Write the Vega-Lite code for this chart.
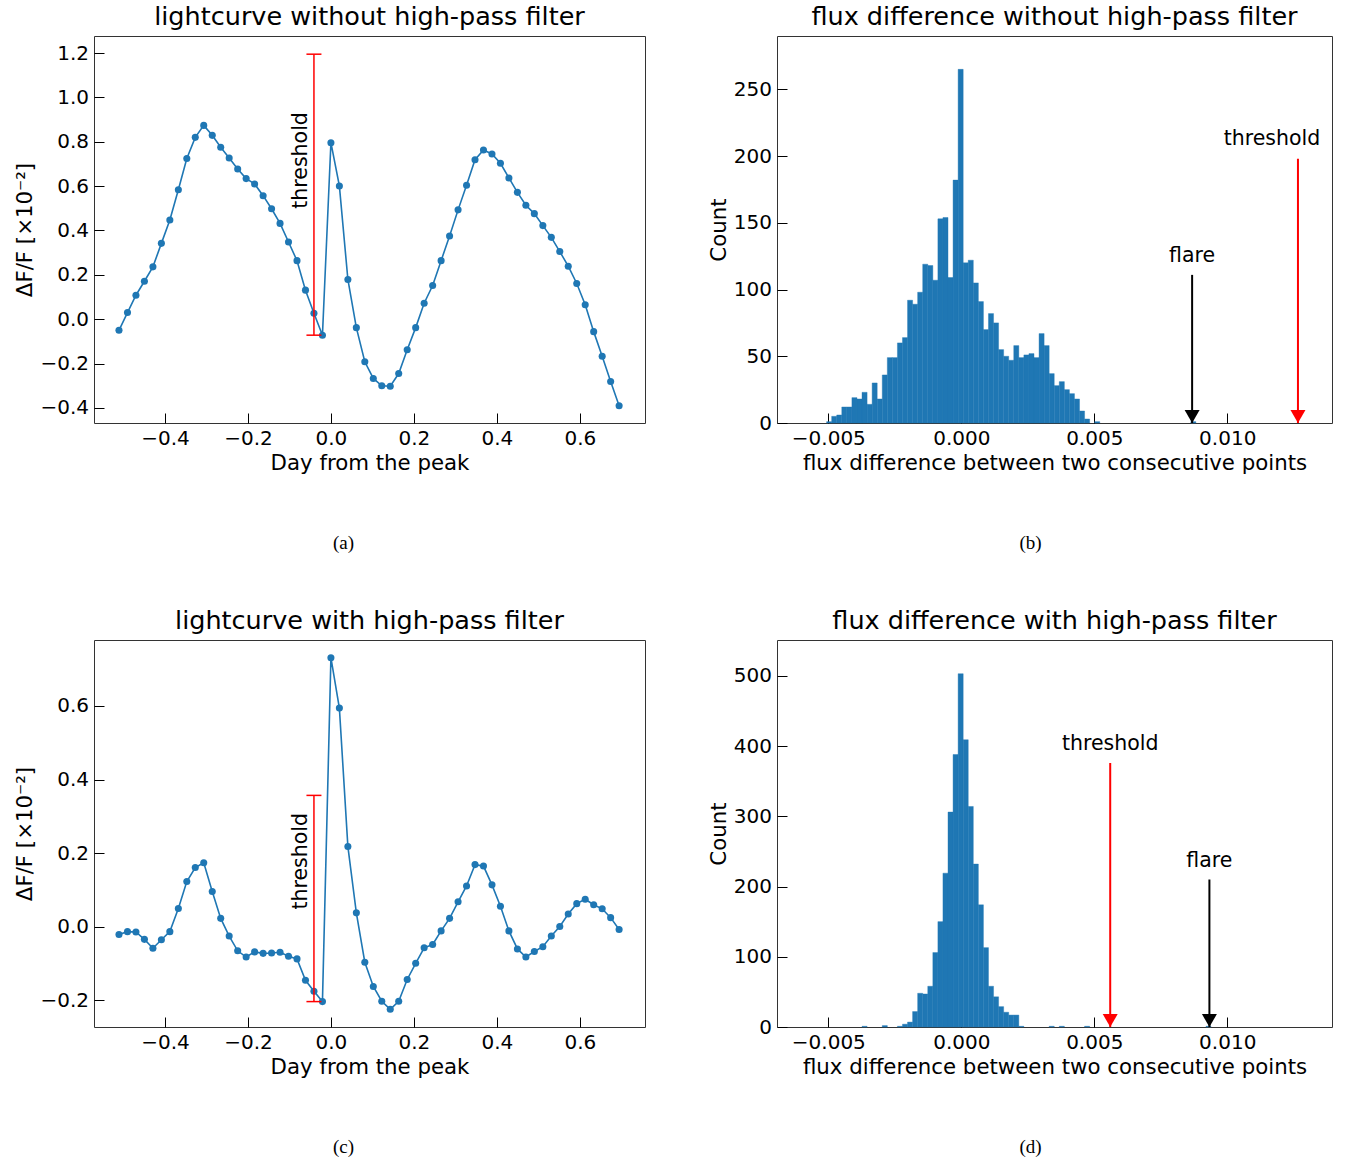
{
  "$schema": "https://vega.github.io/schema/vega-lite/v6.json",
  "padding": {"left": 14, "top": 4, "right": 5, "bottom": 5},
  "config": {
    "font": "DejaVu Sans",
    "view": {"stroke": "#333333", "strokeWidth": 1},
    "axis": {"grid": false, "domain": false, "tickColor": "#000000", "tickSize": -10, "tickWidth": 1, "labelFontSize": 20, "labelColor": "#000000", "titleFontSize": 21.3, "titleFontWeight": "normal", "titleColor": "#000000", "labelPadding": 15.5, "labelFlush": false, "labelOverlap": false},
    "title": {"fontSize": 25.5, "fontWeight": "normal", "color": "#000000", "baseline": "alphabetic", "offset": 6}
  },
  "datasets": {
    "lc_raw": [
      {"day": -0.5108, "flux": -0.050}, {"day": -0.4903, "flux": 0.030}, {"day": -0.4699, "flux": 0.108}, {"day": -0.4495, "flux": 0.171},
      {"day": -0.4290, "flux": 0.236}, {"day": -0.4086, "flux": 0.342}, {"day": -0.3882, "flux": 0.447}, {"day": -0.3677, "flux": 0.584},
      {"day": -0.3473, "flux": 0.725}, {"day": -0.3269, "flux": 0.820}, {"day": -0.3065, "flux": 0.874}, {"day": -0.2860, "flux": 0.829},
      {"day": -0.2656, "flux": 0.775}, {"day": -0.2452, "flux": 0.727}, {"day": -0.2247, "flux": 0.677}, {"day": -0.2043, "flux": 0.634},
      {"day": -0.1839, "flux": 0.610}, {"day": -0.1634, "flux": 0.557}, {"day": -0.1430, "flux": 0.498}, {"day": -0.1226, "flux": 0.432},
      {"day": -0.1022, "flux": 0.348}, {"day": -0.0817, "flux": 0.264}, {"day": -0.0613, "flux": 0.131}, {"day": -0.0409, "flux": 0.027},
      {"day": -0.0204, "flux": -0.072}, {"day": 0.0, "flux": 0.796}, {"day": 0.0204, "flux": 0.601}, {"day": 0.0409, "flux": 0.179},
      {"day": 0.0613, "flux": -0.038}, {"day": 0.0817, "flux": -0.192}, {"day": 0.1022, "flux": -0.267}, {"day": 0.1226, "flux": -0.300},
      {"day": 0.1430, "flux": -0.302}, {"day": 0.1634, "flux": -0.245}, {"day": 0.1839, "flux": -0.138}, {"day": 0.2043, "flux": -0.038},
      {"day": 0.2247, "flux": 0.072}, {"day": 0.2452, "flux": 0.152}, {"day": 0.2656, "flux": 0.264}, {"day": 0.2860, "flux": 0.375},
      {"day": 0.3065, "flux": 0.493}, {"day": 0.3269, "flux": 0.604}, {"day": 0.3473, "flux": 0.719}, {"day": 0.3677, "flux": 0.763},
      {"day": 0.3882, "flux": 0.745}, {"day": 0.4086, "flux": 0.703}, {"day": 0.4290, "flux": 0.637}, {"day": 0.4495, "flux": 0.572},
      {"day": 0.4699, "flux": 0.514}, {"day": 0.4903, "flux": 0.476}, {"day": 0.5108, "flux": 0.422}, {"day": 0.5312, "flux": 0.369},
      {"day": 0.5516, "flux": 0.305}, {"day": 0.5720, "flux": 0.239}, {"day": 0.5925, "flux": 0.161}, {"day": 0.6129, "flux": 0.065},
      {"day": 0.6333, "flux": -0.056}, {"day": 0.6538, "flux": -0.167}, {"day": 0.6742, "flux": -0.281}, {"day": 0.6946, "flux": -0.390}
    ],
    "lc_hp": [
      {"day": -0.5108, "flux": -0.021}, {"day": -0.4903, "flux": -0.013}, {"day": -0.4699, "flux": -0.014}, {"day": -0.4495, "flux": -0.034},
      {"day": -0.4290, "flux": -0.058}, {"day": -0.4086, "flux": -0.035}, {"day": -0.3882, "flux": -0.013}, {"day": -0.3677, "flux": 0.050},
      {"day": -0.3473, "flux": 0.123}, {"day": -0.3269, "flux": 0.161}, {"day": -0.3065, "flux": 0.174}, {"day": -0.2860, "flux": 0.096},
      {"day": -0.2656, "flux": 0.023}, {"day": -0.2452, "flux": -0.025}, {"day": -0.2247, "flux": -0.065}, {"day": -0.2043, "flux": -0.082},
      {"day": -0.1839, "flux": -0.068}, {"day": -0.1634, "flux": -0.072}, {"day": -0.1430, "flux": -0.071}, {"day": -0.1226, "flux": -0.069},
      {"day": -0.1022, "flux": -0.080}, {"day": -0.0817, "flux": -0.087}, {"day": -0.0613, "flux": -0.145}, {"day": -0.0409, "flux": -0.175},
      {"day": -0.0204, "flux": -0.203}, {"day": 0.0, "flux": 0.731}, {"day": 0.0204, "flux": 0.594}, {"day": 0.0409, "flux": 0.218},
      {"day": 0.0613, "flux": 0.038}, {"day": 0.0817, "flux": -0.096}, {"day": 0.1022, "flux": -0.162}, {"day": 0.1226, "flux": -0.202},
      {"day": 0.1430, "flux": -0.224}, {"day": 0.1634, "flux": -0.202}, {"day": 0.1839, "flux": -0.143}, {"day": 0.2043, "flux": -0.099},
      {"day": 0.2247, "flux": -0.057}, {"day": 0.2452, "flux": -0.048}, {"day": 0.2656, "flux": -0.011}, {"day": 0.2860, "flux": 0.023},
      {"day": 0.3065, "flux": 0.068}, {"day": 0.3269, "flux": 0.111}, {"day": 0.3473, "flux": 0.169}, {"day": 0.3677, "flux": 0.165},
      {"day": 0.3882, "flux": 0.114}, {"day": 0.4086, "flux": 0.056}, {"day": 0.4290, "flux": -0.011}, {"day": 0.4495, "flux": -0.060},
      {"day": 0.4699, "flux": -0.082}, {"day": 0.4903, "flux": -0.067}, {"day": 0.5108, "flux": -0.054}, {"day": 0.5312, "flux": -0.025},
      {"day": 0.5516, "flux": 0.001}, {"day": 0.5720, "flux": 0.035}, {"day": 0.5925, "flux": 0.063}, {"day": 0.6129, "flux": 0.075},
      {"day": 0.6333, "flux": 0.060}, {"day": 0.6538, "flux": 0.049}, {"day": 0.6742, "flux": 0.025}, {"day": 0.6946, "flux": -0.007}
    ],
    "thr_a": [{"day": -0.0409, "lo": -0.072, "hi": 1.195, "label_at": 0.716, "label": "threshold"}],
    "thr_c": [{"day": -0.0409, "lo": -0.203, "hi": 0.357, "label_at": 0.178, "label": "threshold"}],
    "hist_raw": [
      {"x0": -0.0050642, "x1": -0.004874, "n": 1}, {"x0": -0.004874, "x1": -0.0046838, "n": 5}, {"x0": -0.0046838, "x1": -0.0044936, "n": 6},
      {"x0": -0.0044936, "x1": -0.0043034, "n": 12}, {"x0": -0.0043034, "x1": -0.0041132, "n": 12}, {"x0": -0.0041132, "x1": -0.003923, "n": 19},
      {"x0": -0.003923, "x1": -0.0037328, "n": 18}, {"x0": -0.0037328, "x1": -0.0035426, "n": 23}, {"x0": -0.0035426, "x1": -0.0033524, "n": 14},
      {"x0": -0.0033524, "x1": -0.0031622, "n": 30}, {"x0": -0.0031622, "x1": -0.002972, "n": 18}, {"x0": -0.002972, "x1": -0.0027818, "n": 36},
      {"x0": -0.0027818, "x1": -0.0025916, "n": 49}, {"x0": -0.0025916, "x1": -0.0024014, "n": 49}, {"x0": -0.0024014, "x1": -0.0022112, "n": 60},
      {"x0": -0.0022112, "x1": -0.002021, "n": 64}, {"x0": -0.002021, "x1": -0.0018308, "n": 92}, {"x0": -0.0018308, "x1": -0.0016406, "n": 89},
      {"x0": -0.0016406, "x1": -0.0014504, "n": 98}, {"x0": -0.0014504, "x1": -0.0012602, "n": 119}, {"x0": -0.0012602, "x1": -0.00107, "n": 118},
      {"x0": -0.00107, "x1": -0.0008798, "n": 107}, {"x0": -0.0008798, "x1": -0.0006896, "n": 153}, {"x0": -0.0006896, "x1": -0.0004994, "n": 154},
      {"x0": -0.0004994, "x1": -0.0003092, "n": 109}, {"x0": -0.0003092, "x1": -0.000119, "n": 182}, {"x0": -0.000119, "x1": 0.0000712, "n": 265},
      {"x0": 0.0000712, "x1": 0.0002614, "n": 120}, {"x0": 0.0002614, "x1": 0.0004516, "n": 122}, {"x0": 0.0004516, "x1": 0.0006418, "n": 105},
      {"x0": 0.0006418, "x1": 0.000832, "n": 91}, {"x0": 0.000832, "x1": 0.0010222, "n": 70}, {"x0": 0.0010222, "x1": 0.0012124, "n": 82},
      {"x0": 0.0012124, "x1": 0.0014026, "n": 75}, {"x0": 0.0014026, "x1": 0.0015928, "n": 55}, {"x0": 0.0015928, "x1": 0.001783, "n": 50},
      {"x0": 0.001783, "x1": 0.0019732, "n": 47}, {"x0": 0.0019732, "x1": 0.0021634, "n": 58}, {"x0": 0.0021634, "x1": 0.0023536, "n": 49},
      {"x0": 0.0023536, "x1": 0.0025438, "n": 51}, {"x0": 0.0025438, "x1": 0.002734, "n": 52}, {"x0": 0.002734, "x1": 0.0029242, "n": 49},
      {"x0": 0.0029242, "x1": 0.0031144, "n": 67}, {"x0": 0.0031144, "x1": 0.0033046, "n": 58}, {"x0": 0.0033046, "x1": 0.0034948, "n": 37},
      {"x0": 0.0034948, "x1": 0.003685, "n": 28}, {"x0": 0.003685, "x1": 0.0038752, "n": 31}, {"x0": 0.0038752, "x1": 0.0040654, "n": 25},
      {"x0": 0.0040654, "x1": 0.0042556, "n": 22}, {"x0": 0.0042556, "x1": 0.0044458, "n": 18}, {"x0": 0.0044458, "x1": 0.004636, "n": 9},
      {"x0": 0.004636, "x1": 0.0048262, "n": 3}, {"x0": 0.0050164, "x1": 0.0052066, "n": 1}, {"x0": 0.0086302, "x1": 0.0088204, "n": 1}
    ],
    "hist_hp": [
      {"x0": -0.0037328, "x1": -0.0035426, "n": 1}, {"x0": -0.002972, "x1": -0.0027818, "n": 2}, {"x0": -0.0024014, "x1": -0.0022112, "n": 1},
      {"x0": -0.0022112, "x1": -0.002021, "n": 4}, {"x0": -0.002021, "x1": -0.0018308, "n": 7}, {"x0": -0.0018308, "x1": -0.0016406, "n": 22},
      {"x0": -0.0016406, "x1": -0.0014504, "n": 48}, {"x0": -0.0014504, "x1": -0.0012602, "n": 47}, {"x0": -0.0012602, "x1": -0.00107, "n": 58},
      {"x0": -0.00107, "x1": -0.0008798, "n": 106}, {"x0": -0.0008798, "x1": -0.0006896, "n": 150}, {"x0": -0.0006896, "x1": -0.0004994, "n": 219},
      {"x0": -0.0004994, "x1": -0.0003092, "n": 306}, {"x0": -0.0003092, "x1": -0.000119, "n": 388}, {"x0": -0.000119, "x1": 0.0000712, "n": 503},
      {"x0": 0.0000712, "x1": 0.0002614, "n": 409}, {"x0": 0.0002614, "x1": 0.0004516, "n": 314}, {"x0": 0.0004516, "x1": 0.0006418, "n": 232},
      {"x0": 0.0006418, "x1": 0.000832, "n": 174}, {"x0": 0.000832, "x1": 0.0010222, "n": 113}, {"x0": 0.0010222, "x1": 0.0012124, "n": 58},
      {"x0": 0.0012124, "x1": 0.0014026, "n": 43}, {"x0": 0.0014026, "x1": 0.0015928, "n": 29}, {"x0": 0.0015928, "x1": 0.001783, "n": 21},
      {"x0": 0.001783, "x1": 0.0019732, "n": 17}, {"x0": 0.0019732, "x1": 0.0021634, "n": 17}, {"x0": 0.0021634, "x1": 0.0023536, "n": 1},
      {"x0": 0.0033046, "x1": 0.0034948, "n": 1}, {"x0": 0.003685, "x1": 0.0038752, "n": 1}, {"x0": 0.004636, "x1": 0.0048262, "n": 1},
      {"x0": 0.0092008, "x1": 0.009391, "n": 1}
    ],
    "arr_b": [{"name": "flare", "x": 0.00868, "top": 111}, {"name": "threshold", "x": 0.01266, "top": 198}],
    "arr_d": [{"name": "threshold", "x": 0.0056, "top": 376}, {"name": "flare", "x": 0.00933, "top": 210}]
  },
  "columns": 2,
  "spacing": {"row": 98, "column": 132},
  "bounds": "flush",
  "concat": [
    {
      "width": 551, "height": 387,
      "title": "lightcurve without high-pass filter",
      "layer": [
        {"data": {"name": "lc_raw"}, "mark": {"type": "line", "color": "#1f77b4", "strokeWidth": 1.6, "point": {"filled": true, "size": 50, "color": "#1f77b4", "opacity": 1}},
         "encoding": {
           "x": {"field": "day", "type": "quantitative", "scale": {"domain": [-0.571, 0.757], "nice": false, "zero": false}, "axis": {"values": [-0.4, -0.2, 0, 0.2, 0.4, 0.6], "format": ".1f", "title": "Day from the peak"}},
           "y": {"field": "flux", "type": "quantitative", "scale": {"domain": [-0.468, 1.277], "nice": false, "zero": false}, "axis": {"values": [-0.4, -0.2, 0, 0.2, 0.4, 0.6, 0.8, 1.0, 1.2], "format": ".1f", "title": "ΔF/F [×10⁻²]"}}
         }},
        {"data": {"name": "thr_a"}, "mark": {"type": "rule", "color": "#ff0000", "strokeWidth": 1.5},
         "encoding": {"x": {"field": "day", "type": "quantitative"}, "y": {"field": "lo", "type": "quantitative"}, "y2": {"field": "hi"}}},
        {"data": {"name": "thr_a"}, "mark": {"type": "tick", "orient": "horizontal", "color": "#ff0000", "size": 15, "thickness": 1.5, "opacity": 1},
         "encoding": {"x": {"field": "day", "type": "quantitative"}, "y": {"field": "lo", "type": "quantitative"}}},
        {"data": {"name": "thr_a"}, "mark": {"type": "tick", "orient": "horizontal", "color": "#ff0000", "size": 15, "thickness": 1.5, "opacity": 1},
         "encoding": {"x": {"field": "day", "type": "quantitative"}, "y": {"field": "hi", "type": "quantitative"}}},
        {"data": {"name": "thr_a"}, "mark": {"type": "text", "angle": 270, "fontSize": 20.5, "align": "center", "baseline": "alphabetic", "dy": -7, "color": "#000000"},
         "encoding": {"x": {"field": "day", "type": "quantitative"}, "y": {"field": "label_at", "type": "quantitative"}, "text": {"field": "label"}}}
      ]
    },
    {
      "width": 555, "height": 387,
      "title": "flux difference without high-pass filter",
      "layer": [
        {"data": {"name": "hist_raw"}, "mark": {"type": "bar", "color": "#1f77b4", "stroke": "#1f77b4", "strokeWidth": 0.4},
         "encoding": {
           "x": {"field": "x0", "type": "quantitative", "scale": {"domain": [-0.00693, 0.01394], "nice": false, "zero": false}, "axis": {"values": [-0.005, 0, 0.005, 0.01], "format": ".3f", "title": "flux difference between two consecutive points"}},
           "x2": {"field": "x1"},
           "y": {"field": "n", "type": "quantitative", "scale": {"domain": [0, 290], "nice": false}, "axis": {"values": [0, 50, 100, 150, 200, 250], "title": "Count"}},
           "y2": {"datum": 0}
         }},
        {"data": {"name": "arr_b"}, "mark": {"type": "rule", "strokeWidth": 2},
         "encoding": {"x": {"field": "x", "type": "quantitative"}, "y": {"field": "top", "type": "quantitative"}, "y2": {"datum": 0},
           "color": {"field": "name", "type": "nominal", "scale": {"domain": ["flare", "threshold"], "range": ["#000000", "#ff0000"]}, "legend": null}}},
        {"data": {"name": "arr_b"}, "mark": {"type": "point", "shape": "M-1,-1.73L1,-1.73L0,0Z", "filled": true, "size": 225, "opacity": 1},
         "encoding": {"x": {"field": "x", "type": "quantitative"}, "y": {"datum": 0, "type": "quantitative"},
           "color": {"field": "name", "type": "nominal", "scale": {"domain": ["flare", "threshold"], "range": ["#000000", "#ff0000"]}, "legend": null}}},
        {"data": {"name": "arr_b"}, "transform": [{"filter": {"field": "name", "equal": "flare"}}],
         "mark": {"type": "text", "fontSize": 20.5, "baseline": "middle", "align": "center", "dy": -19, "color": "#000000"},
         "encoding": {"x": {"field": "x", "type": "quantitative"}, "y": {"field": "top", "type": "quantitative"}, "text": {"field": "name"}}},
        {"data": {"name": "arr_b"}, "transform": [{"filter": {"field": "name", "equal": "threshold"}}],
         "mark": {"type": "text", "fontSize": 20.5, "baseline": "middle", "align": "center", "dy": -20, "dx": -26, "color": "#000000"},
         "encoding": {"x": {"field": "x", "type": "quantitative"}, "y": {"field": "top", "type": "quantitative"}, "text": {"field": "name"}}}
      ]
    },
    {"width": 551, "height": 21, "view": {"stroke": null}, "data": {"values": [{"cap": "(a)"}]},
     "mark": {"type": "text", "font": "Liberation Serif", "fontSize": 19, "baseline": "middle", "dx": -26, "dy": 11, "color": "#000000"},
     "encoding": {"text": {"field": "cap"}}},
    {"width": 555, "height": 21, "view": {"stroke": null}, "data": {"values": [{"cap": "(b)"}]},
     "mark": {"type": "text", "font": "Liberation Serif", "fontSize": 19, "baseline": "middle", "dx": -24, "dy": 11, "color": "#000000"},
     "encoding": {"text": {"field": "cap"}}},
    {
      "width": 551, "height": 387,
      "title": "lightcurve with high-pass filter",
      "layer": [
        {"data": {"name": "lc_hp"}, "mark": {"type": "line", "color": "#1f77b4", "strokeWidth": 1.6, "point": {"filled": true, "size": 50, "color": "#1f77b4", "opacity": 1}},
         "encoding": {
           "x": {"field": "day", "type": "quantitative", "scale": {"domain": [-0.571, 0.757], "nice": false, "zero": false}, "axis": {"values": [-0.4, -0.2, 0, 0.2, 0.4, 0.6], "format": ".1f", "title": "Day from the peak"}},
           "y": {"field": "flux", "type": "quantitative", "scale": {"domain": [-0.272, 0.779], "nice": false, "zero": false}, "axis": {"values": [-0.2, 0, 0.2, 0.4, 0.6], "format": ".1f", "title": "ΔF/F [×10⁻²]"}}
         }},
        {"data": {"name": "thr_c"}, "mark": {"type": "rule", "color": "#ff0000", "strokeWidth": 1.5},
         "encoding": {"x": {"field": "day", "type": "quantitative"}, "y": {"field": "lo", "type": "quantitative"}, "y2": {"field": "hi"}}},
        {"data": {"name": "thr_c"}, "mark": {"type": "tick", "orient": "horizontal", "color": "#ff0000", "size": 15, "thickness": 1.5, "opacity": 1},
         "encoding": {"x": {"field": "day", "type": "quantitative"}, "y": {"field": "lo", "type": "quantitative"}}},
        {"data": {"name": "thr_c"}, "mark": {"type": "tick", "orient": "horizontal", "color": "#ff0000", "size": 15, "thickness": 1.5, "opacity": 1},
         "encoding": {"x": {"field": "day", "type": "quantitative"}, "y": {"field": "hi", "type": "quantitative"}}},
        {"data": {"name": "thr_c"}, "mark": {"type": "text", "angle": 270, "fontSize": 20.5, "align": "center", "baseline": "alphabetic", "dy": -7, "color": "#000000"},
         "encoding": {"x": {"field": "day", "type": "quantitative"}, "y": {"field": "label_at", "type": "quantitative"}, "text": {"field": "label"}}}
      ]
    },
    {
      "width": 555, "height": 387,
      "title": "flux difference with high-pass filter",
      "layer": [
        {"data": {"name": "hist_hp"}, "mark": {"type": "bar", "color": "#1f77b4", "stroke": "#1f77b4", "strokeWidth": 0.4},
         "encoding": {
           "x": {"field": "x0", "type": "quantitative", "scale": {"domain": [-0.00693, 0.01394], "nice": false, "zero": false}, "axis": {"values": [-0.005, 0, 0.005, 0.01], "format": ".3f", "title": "flux difference between two consecutive points"}},
           "x2": {"field": "x1"},
           "y": {"field": "n", "type": "quantitative", "scale": {"domain": [0, 551], "nice": false}, "axis": {"values": [0, 100, 200, 300, 400, 500], "title": "Count"}},
           "y2": {"datum": 0}
         }},
        {"data": {"name": "arr_d"}, "mark": {"type": "rule", "strokeWidth": 2},
         "encoding": {"x": {"field": "x", "type": "quantitative"}, "y": {"field": "top", "type": "quantitative"}, "y2": {"datum": 0},
           "color": {"field": "name", "type": "nominal", "scale": {"domain": ["flare", "threshold"], "range": ["#000000", "#ff0000"]}, "legend": null}}},
        {"data": {"name": "arr_d"}, "mark": {"type": "point", "shape": "M-1,-1.73L1,-1.73L0,0Z", "filled": true, "size": 225, "opacity": 1},
         "encoding": {"x": {"field": "x", "type": "quantitative"}, "y": {"datum": 0, "type": "quantitative"},
           "color": {"field": "name", "type": "nominal", "scale": {"domain": ["flare", "threshold"], "range": ["#000000", "#ff0000"]}, "legend": null}}},
        {"data": {"name": "arr_d"},
         "mark": {"type": "text", "fontSize": 20.5, "baseline": "middle", "align": "center", "dy": -19, "color": "#000000"},
         "encoding": {"x": {"field": "x", "type": "quantitative"}, "y": {"field": "top", "type": "quantitative"}, "text": {"field": "name"}}}
      ]
    },
    {"width": 551, "height": 21, "view": {"stroke": null}, "data": {"values": [{"cap": "(c)"}]},
     "mark": {"type": "text", "font": "Liberation Serif", "fontSize": 19, "baseline": "middle", "dx": -26, "dy": 11, "color": "#000000"},
     "encoding": {"text": {"field": "cap"}}},
    {"width": 555, "height": 21, "view": {"stroke": null}, "data": {"values": [{"cap": "(d)"}]},
     "mark": {"type": "text", "font": "Liberation Serif", "fontSize": 19, "baseline": "middle", "dx": -24, "dy": 11, "color": "#000000"},
     "encoding": {"text": {"field": "cap"}}}
  ]
}
